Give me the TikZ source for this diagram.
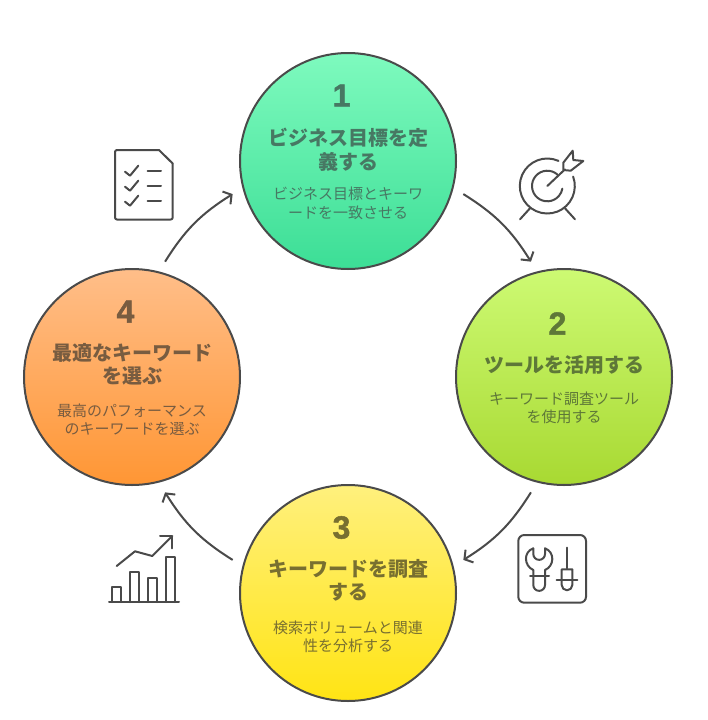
\documentclass[tikz,border=0pt]{standalone}
\usepackage{fontspec}
\setmainfont{Noto Sans CJK JP}
\newfontfamily\numfont[FakeBold=1.5]{Liberation Sans}
\usetikzlibrary{arrows.meta}
\definecolor{ink}{HTML}{4A4A4A}
\definecolor{tone1}{HTML}{477863}
\definecolor{tone2}{HTML}{5E7838}
\definecolor{tone3}{HTML}{786F30}
\definecolor{tone4}{HTML}{785C40}
\tikzset{
  stage/.style={circle,draw=ink,line width=2pt,minimum size=216pt,inner sep=0pt,outer sep=12pt},
  numlabel/.style={font=\fontsize{32}{36}\selectfont\bfseries\numfont,inner sep=0pt},
  titlelabel/.style={font=\fontsize{20}{24}\selectfont\bfseries,inner sep=0pt},
  desclabel/.style={font=\fontsize{15}{18}\selectfont,inner sep=0pt},
  link/.style={draw=ink,line width=2pt,-{Straight Barb[length=6pt,width=15pt,line width=2pt]}},
  icon/.style={draw=ink,line width=2pt,line cap=round,line join=round}
}
\begin{document}
\begin{tikzpicture}[x=1pt,y=-1pt]
\useasboundingbox (0,0) rectangle (708,720);
\node[stage,top color={rgb,255:red,126;green,250;blue,190},bottom color={rgb,255:red,60;green,222;blue,150}] (c1) at (348,161) {};
\node[stage,top color={rgb,255:red,205;green,250;blue,115},bottom color={rgb,255:red,168;green,217;blue,50}] (c2) at (564,377) {};
\node[stage,top color={rgb,255:red,255;green,240;blue,125},bottom color={rgb,255:red,255;green,228;blue,20}] (c3) at (348,593) {};
\node[stage,top color={rgb,255:red,255;green,190;blue,137},bottom color={rgb,255:red,255;green,150;blue,52}] (c4) at (132,377) {};
% circle 1
\node[numlabel,text=tone1] (n1) at (341.5,95.5) {1};
\node[titlelabel,text=tone1] (t1a) at (348,137.5) {ビジネス目標を定};
\node[titlelabel,text=tone1] (t1b) at (348,161.5) {義する};
\node[desclabel,text=tone1] (d1a) at (348,194) {ビジネス目標とキーワ};
\node[desclabel,text=tone1] (d1b) at (348,212.5) {ードを一致させる};
% circle 2
\node[numlabel,text=tone2] (n2) at (557.5,323.5) {2};
\node[titlelabel,text=tone2] (t2a) at (564,364.5) {ツールを活用する};
\node[desclabel,text=tone2] (d2a) at (564,398.5) {キーワード調査ツール};
\node[desclabel,text=tone2] (d2b) at (564,416.5) {を使用する};
% circle 3
\node[numlabel,text=tone3] (n3) at (341.5,527.5) {3};
\node[titlelabel,text=tone3] (t3a) at (348,568.5) {キーワードを調査};
\node[titlelabel,text=tone3] (t3b) at (348,592.5) {する};
\node[desclabel,text=tone3] (d3a) at (348,627.5) {検索ボリュームと関連};
\node[desclabel,text=tone3] (d3b) at (348,645.5) {性を分析する};
% circle 4
\node[numlabel,text=tone4] (n4) at (125.5,311.5) {4};
\node[titlelabel,text=tone4] (t4a) at (132,352.5) {最適なキーワード};
\node[titlelabel,text=tone4] (t4b) at (132,376.5) {を選ぶ};
\node[desclabel,text=tone4] (d4a) at (132,410.5) {最高のパフォーマンス};
\node[desclabel,text=tone4] (d4b) at (132,428.5) {のキーワードを選ぶ};
% connectors
\draw[link] (c1.-16) to[bend left=13] (c2.106);
\draw[link] (c2.-106) to[bend left=13] (c3.16);
\draw[link] (c3.164) to[bend left=13] (c4.-74);
\draw[link] (c4.74) to[bend left=13] (c1.196);
% icon: checklist
\draw[icon,rounded corners=2pt] (159,150) -- (115,150) -- (115,219.5) -- (172.7,219.5) -- (172.7,163.5);
\draw[icon] (159,150) -- (172.7,163.5);
\foreach \dy in {0,15,30}{
  \draw[icon] (125,171.7+\dy) -- (130,175.7+\dy) -- (138.3,165.7+\dy);
  \draw[icon] (147.7,171.3+\dy) -- (161,171.3+\dy);
}
% icon: target
\draw[icon] (547.3,186) ++(66:27.5 and -27.5) arc[start angle=-66,end angle=-380,radius=27.5];
\draw[icon] (547.3,186) ++(49:15.3 and -15.3) arc[start angle=-49,end angle=-350,radius=15.3];
\draw[icon] (547.3,186) -- (565,169.3);
\draw[icon] (563.3,162.7) -- (572.7,150.7) -- (573.3,160) -- (583.3,161) -- (570.7,170.7) -- (563.3,170) -- cycle;
\draw[icon] (530,208.3) -- (520,219.3);
\draw[icon] (565,208.3) -- (575,219.3);
% icon: tools
\draw[icon] (518.3,541) arc[start angle=180,end angle=270,radius=6] -- (580,535) arc[start angle=270,end angle=360,radius=6] -- (586,596.7) arc[start angle=0,end angle=90,radius=6] -- (524.3,602.7) arc[start angle=90,end angle=180,radius=6] -- cycle;
\draw[icon] (533.3,548.3) .. controls (523,552) and (524,566) .. (533.3,570) -- (533.3,585) arc[start angle=180,end angle=0,radius=5.85] -- (545,570) .. controls (554.5,566) and (555,552) .. (545,548.3) -- (545,554) arc[start angle=0,end angle=180,radius=5.85] -- cycle;
\draw[icon] (530,576) -- (549,576);
\draw[icon] (567,547.7) -- (567,568.3);
\draw[icon] (561.7,569.3) -- (572.3,569.3) -- (572.3,585) arc[start angle=0,end angle=180,radius=5.3] -- cycle;
\draw[icon] (556.7,580.3) -- (577.3,580.3);
% icon: chart
\draw[icon] (109,602) -- (179,602);
\draw[icon] (112.3,602) -- (112.3,586.7) -- (121.3,586.7) -- (121.3,602);
\draw[icon] (130.3,602) -- (130.3,571.7) -- (139.3,571.7) -- (139.3,602);
\draw[icon] (148.3,602) -- (148.3,578) -- (157.3,578) -- (157.3,602);
\draw[icon] (166.3,602) -- (166.3,557) -- (175.3,557) -- (175.3,602);
\draw[icon] (116.7,566) -- (135,551.3) -- (152.3,556) -- (172.3,536);
\draw[icon] (160,536) -- (172.3,536) -- (172.3,548.3);
\end{tikzpicture}
\end{document}
